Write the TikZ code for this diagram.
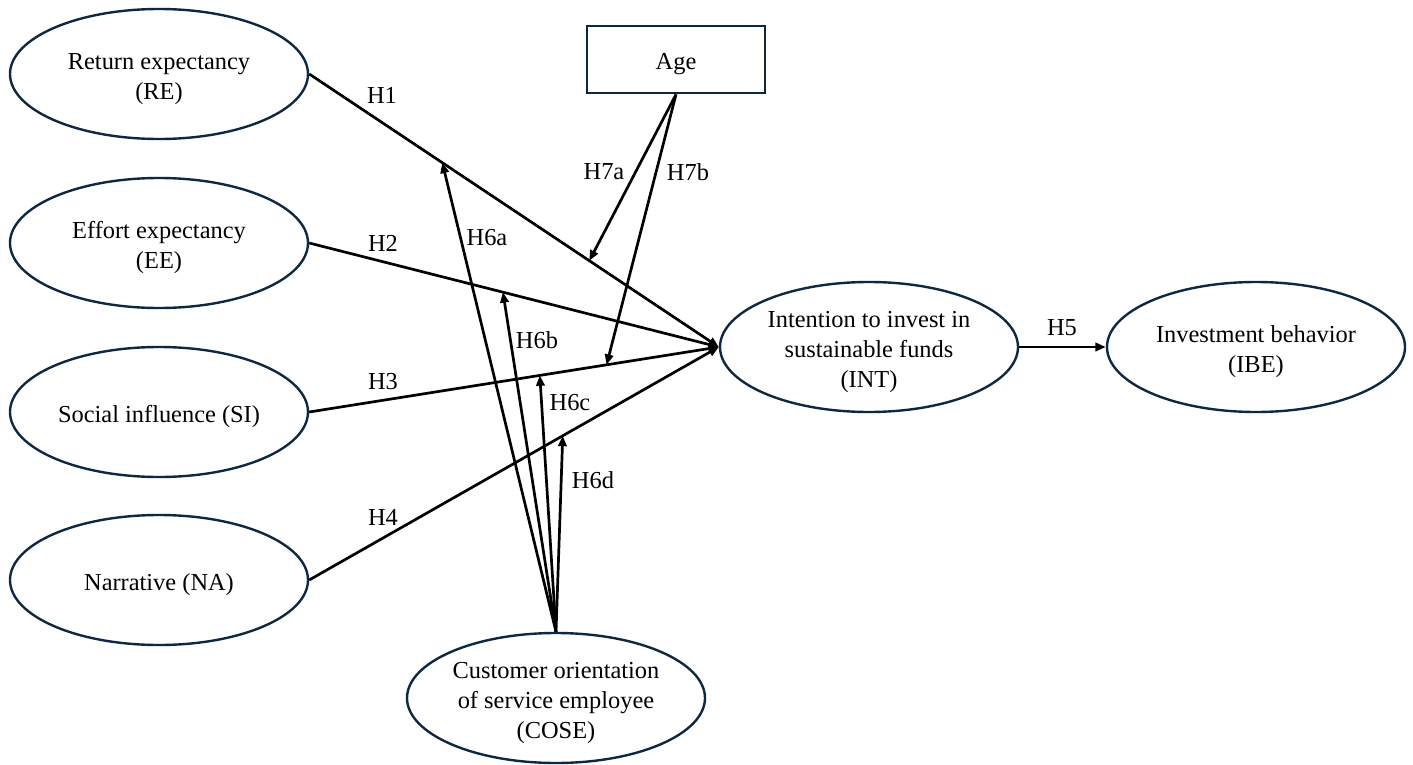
\documentclass[tikz,border=0pt]{standalone}
\usepackage{fontspec}
\setmainfont{Liberation Serif}
\usetikzlibrary{shapes.geometric,arrows.meta,calc}
\definecolor{navy}{HTML}{0E2841}
\newcommand{\tx}[1]{\raisebox{-2.2pt}[\height][\depth]{\begin{tabular}{@{}c@{}}#1\end{tabular}}}
\begin{document}
\begin{tikzpicture}[x=0.5pt,y=-0.5pt,
  every node/.style={font=\fontsize{12.2}{15}\selectfont},
  construct/.style={ellipse,draw=navy,line width=1.2pt,minimum width=149pt,minimum height=65pt,inner sep=0pt,align=center},
  boxnode/.style={rectangle,draw=navy,line width=1.4pt,minimum width=89pt,minimum height=33.5pt,inner sep=0pt},
  path/.style={line width=1.35pt,black},
  arr/.style={path,-{Triangle[length=5.2pt,width=4.2pt]}},
  hyp/.style={inner sep=0pt}]
\useasboundingbox (0,0) rectangle (1413,765);
\node[construct] (RE) at (159,74) {\tx{Return expectancy\\(RE)}};
\node[construct] (EE) at (159,243) {\tx{Effort expectancy\\(EE)}};
\node[construct] (SI) at (159,412) {\tx{Social influence (SI)}};
\node[construct] (NA) at (159,580) {\tx{Narrative (NA)}};
\node[construct] (INT) at (869,347) {\tx{Intention to invest in\\sustainable funds\\(INT)}};
\node[construct] (IBE) at (1256,347) {\tx{Investment behavior\\(IBE)}};
\node[construct] (COSE) at (556,698) {\tx{Customer orientation\\of service employee\\(COSE)}};
\node[boxnode] (Age) at (676,59.5) {\tx{Age}};

\draw[arr] (RE.east) -- (INT.west);
\draw[arr] (EE.east) -- (INT.west);
\draw[arr] (SI.east) -- (INT.west);
\draw[arr] (NA.east) -- (INT.west);
\draw[arr] (INT.east) -- (IBE.west);

\coordinate (t6a) at ($(RE.east)!0.325!(INT.west)$);
\coordinate (t7a) at ($(RE.east)!0.684!(INT.west)$);
\coordinate (t6b) at ($(EE.east)!0.473!(INT.west)$);
\coordinate (t6c) at ($(SI.east)!0.563!(INT.west)$);
\coordinate (t7b) at ($(SI.east)!0.726!(INT.west)$);
\coordinate (t6d) at ($(NA.east)!0.619!(INT.west)$);

\draw[arr] (COSE.north) -- (t6a);
\draw[arr] (COSE.north) -- (t6b);
\draw[arr] (COSE.north) -- (t6c);
\draw[arr] (COSE.north) -- (t6d);
\draw[arr] (Age.south) -- (t7a);
\draw[arr] (Age.south) -- (t7b);

\node[hyp] (h1) at (382,95) {H1};
\node[hyp] (h2) at (383,243) {H2};
\node[hyp] (h3) at (383,382) {H3};
\node[hyp] (h4) at (383,517) {H4};
\node[hyp] (h5) at (1062,328) {H5};
\node[hyp] (h6a) at (487,238) {H6a};
\node[hyp] (h6b) at (537,340) {H6b};
\node[hyp] (h6c) at (570,403) {H6c};
\node[hyp] (h6d) at (593,480) {H6d};
\node[hyp] (h7a) at (604,172) {H7a};
\node[hyp] (h7b) at (688,172) {H7b};
\end{tikzpicture}
\end{document}
